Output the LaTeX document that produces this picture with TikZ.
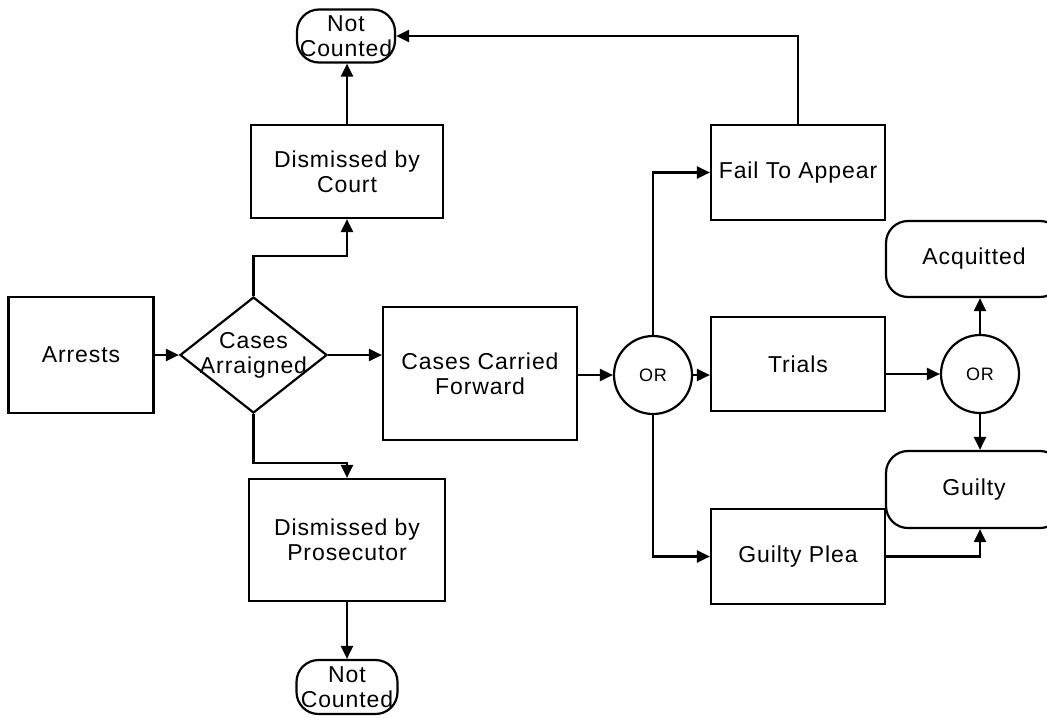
\documentclass[tikz,border=0pt]{standalone}
\usepackage{fontspec}
\setmainfont[LetterSpace=4]{Liberation Sans}
\usetikzlibrary{arrows.meta,shapes.geometric}
\newlength{\du}
\setlength{\du}{0.5pt}
\definecolor{dialinecolor}{rgb}{0.000000, 0.000000, 0.000000}

\begin{document}
\begin{tikzpicture}[
  every node/.style={font=\fontsize{11.5}{12.5}\selectfont, align=center},
  boxnode/.style={draw=dialinecolor, line width=1.1pt, fill=white, rectangle, inner sep=0pt},
  termnode/.style={boxnode, rounded corners=22\du},
  ornode/.style={draw=dialinecolor, line width=1.1pt, fill=white, circle, inner sep=0pt,
    minimum size=78\du, font=\fontsize{9}{11}\selectfont},
  decnode/.style={draw=dialinecolor, line width=1.1pt, fill=white, diamond, inner sep=0pt,
    minimum width=147\du, minimum height=116\du},
  flow/.style={draw=dialinecolor, line width=1.1pt, -{Triangle[length=6.5pt,width=6pt]}}
]
\pgftransformxscale{1.000000}
\pgftransformyscale{-1.000000}
\useasboundingbox (0\du,0\du) rectangle (1047\du,717\du);
% left side
\node[boxnode, minimum width=145\du, minimum height=116\du] (arrests) at (81\du,355\du) {Arrests};
\node[decnode] (arraigned) at (253.5\du,355\du) {};
\node (arraignedtxt) at (arraigned.center) {Cases\\Arraigned};
\node[boxnode, minimum width=192\du, minimum height=93\du] (court) at (347\du,171.5\du) {Dismissed by\\Court};
\node[boxnode, minimum width=196\du, minimum height=122\du] (prosec) at (347\du,540\du) {Dismissed by\\Prosecutor};
\node[termnode, minimum width=98\du, minimum height=53\du] (notcnta) at (346\du,36\du) {Not\\Counted};
\node[termnode, minimum width=101\du, minimum height=54\du] (notcntb) at (347\du,687\du) {Not\\Counted};
% middle
\node[boxnode, minimum width=194\du, minimum height=133\du] (ccf) at (480\du,373.5\du) {Cases Carried\\Forward};
\node[ornode] (orone) at (653\du,375\du) {OR};
\node[boxnode, minimum width=174\du, minimum height=95\du] (fail) at (798\du,172.5\du) {Fail To Appear};
\node[boxnode, minimum width=174\du, minimum height=94\du] (trials) at (798\du,364\du) {Trials};
\node[boxnode, minimum width=174\du, minimum height=95\du] (gplea) at (798\du,556.5\du) {Guilty Plea};
% right side
\node[ornode] (ortwo) at (980\du,374\du) {OR};
\node[termnode, minimum width=176\du, minimum height=76\du] (acquit) at (974\du,259\du) {Acquitted};
\node[termnode, minimum width=176\du, minimum height=77\du] (guilty) at (974\du,489.5\du) {Guilty};
% connectors
\draw[flow] (arrests.east) -- (arraigned.west);
\draw[flow] (arraigned.north) -- ++(0,-40\du) -| (court.south);
\draw[flow] (arraigned.south) -- ++(0,49\du) -| (prosec.north);
\draw[flow] (court.north) -- (court.north |- notcnta.south);
\draw[flow] (prosec.south) -- (prosec.south |- notcntb.north);
\draw[flow] (arraigned.east) -- (arraigned.east -| ccf.west);
\draw[flow] (ccf.east |- orone.west) -- (orone.west);
\draw[flow] (orone.east) -- (orone.east -| trials.west);
\draw[flow] (orone.north) |- (fail.west);
\draw[flow] (orone.south) |- (gplea.west);
\draw[flow] (fail.north) |- (notcnta.east);
\draw[flow] (trials.east |- ortwo.west) -- (ortwo.west);
\draw[flow] (ortwo.north) -- (ortwo.north |- acquit.south);
\draw[flow] (ortwo.south) -- (ortwo.south |- guilty.north);
\draw[flow] (gplea.east) -| (ortwo.south |- guilty.south);
\end{tikzpicture}
\end{document}
